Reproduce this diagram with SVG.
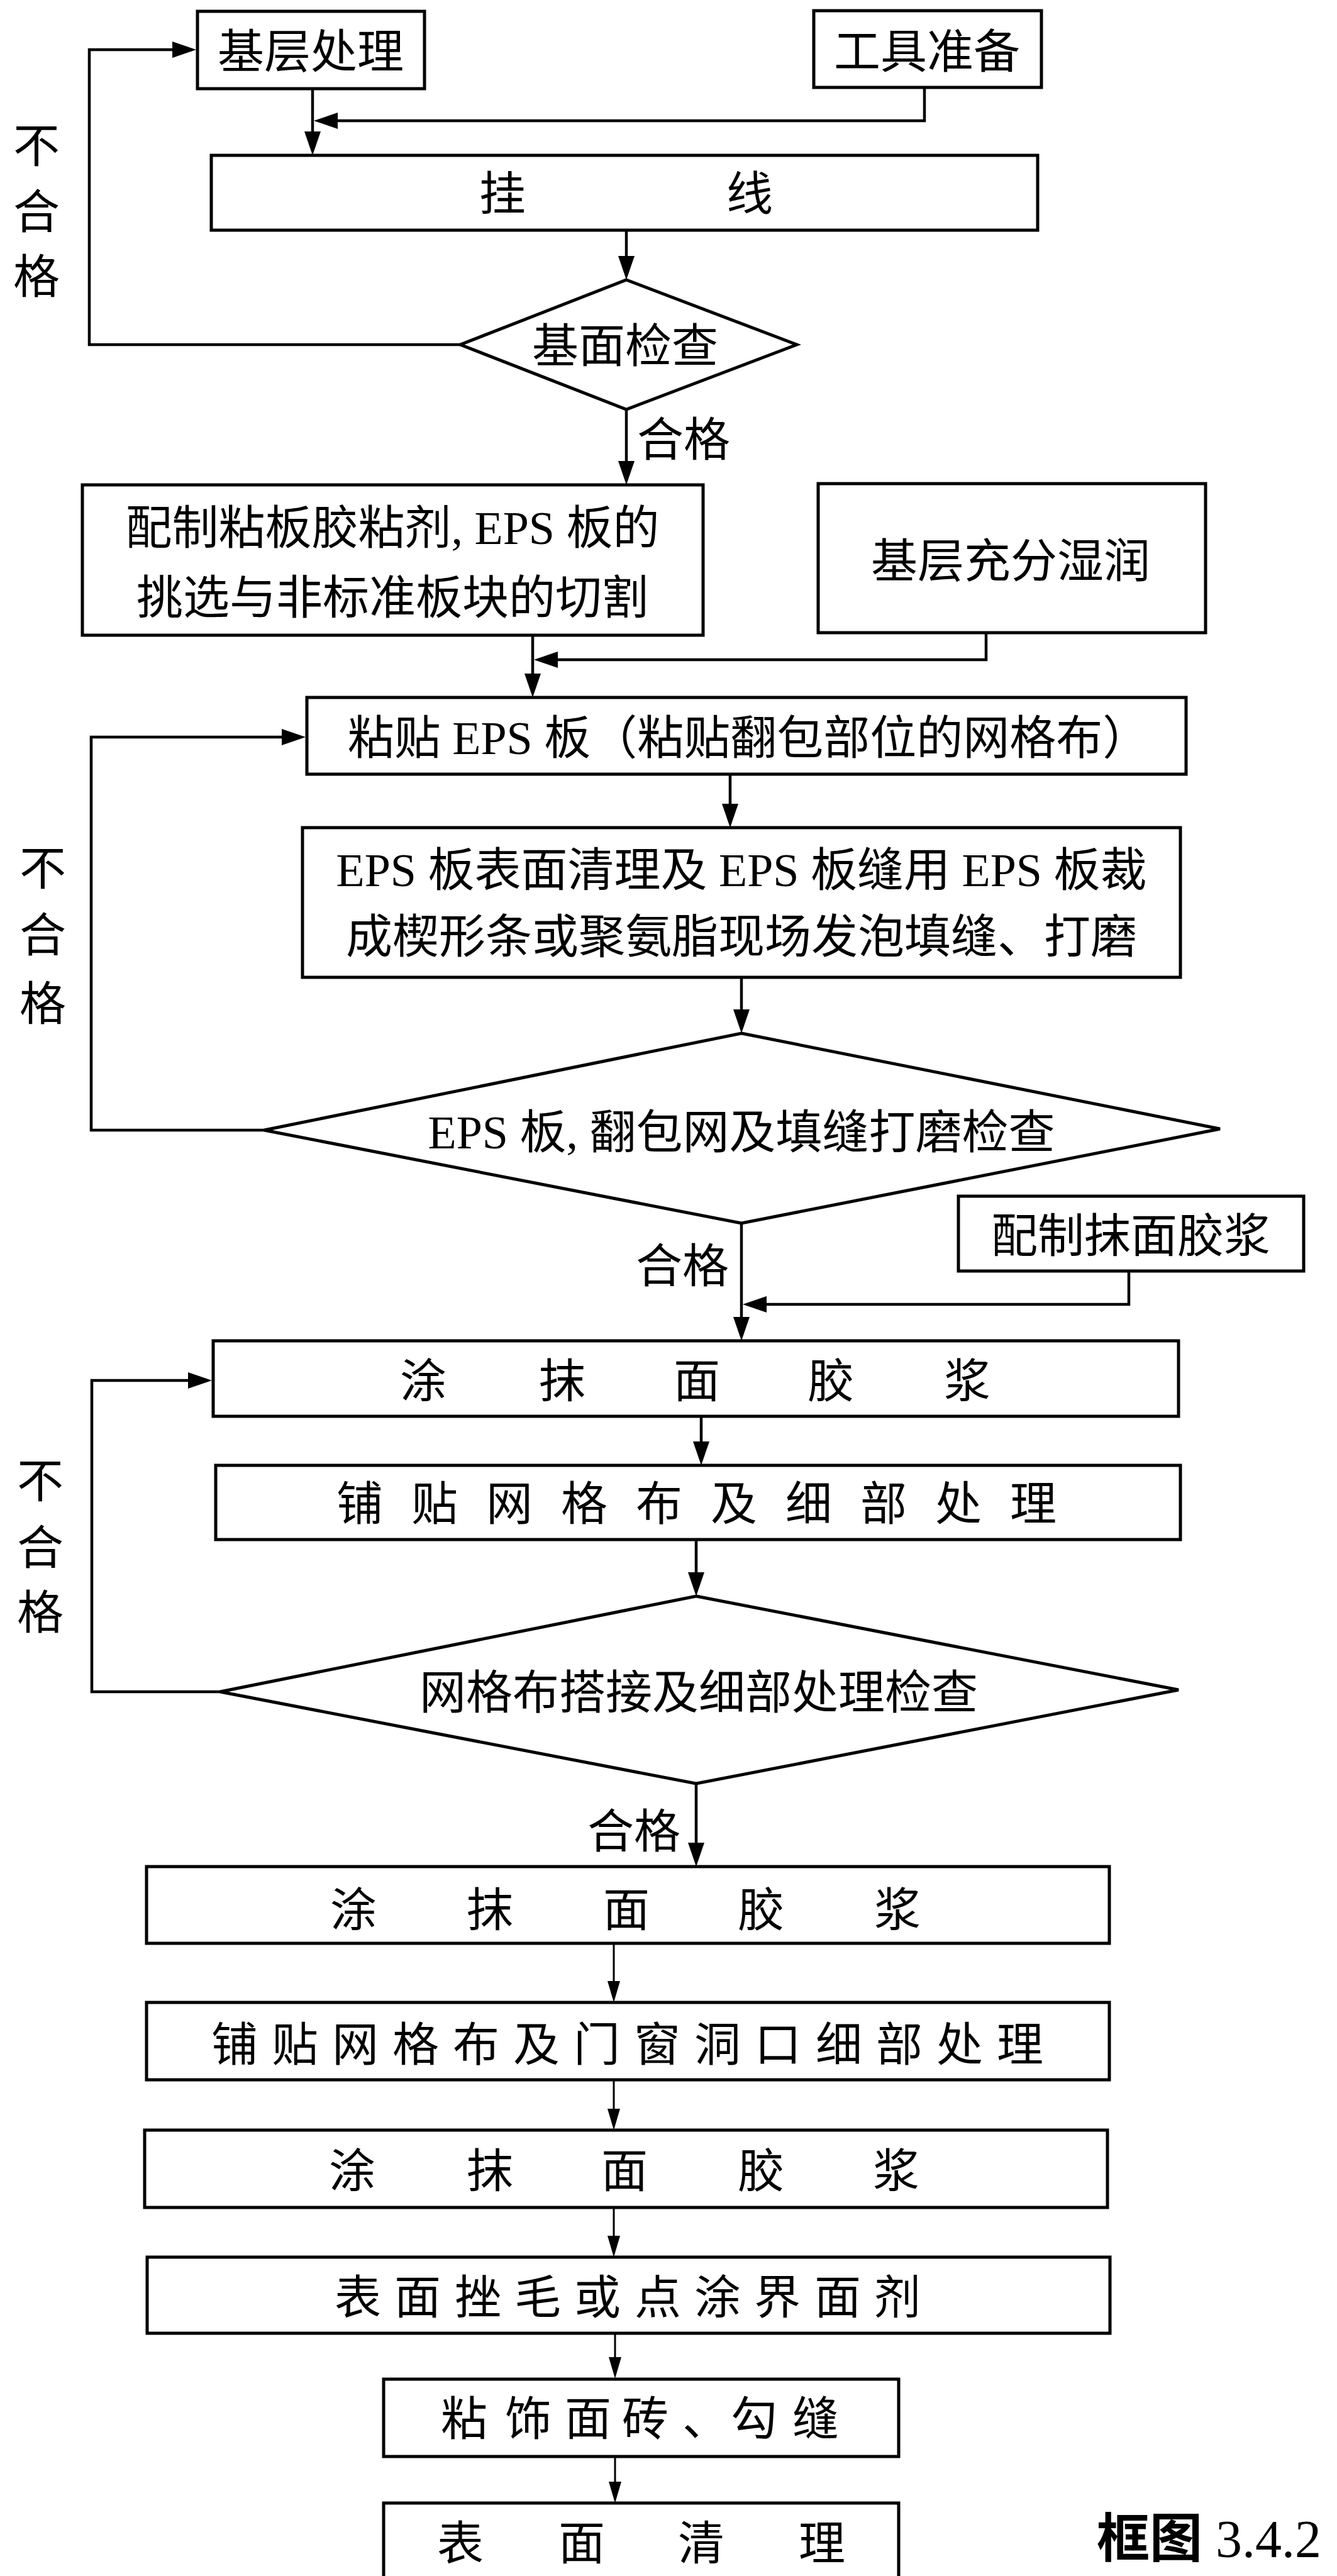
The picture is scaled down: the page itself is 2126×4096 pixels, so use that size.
<svg xmlns="http://www.w3.org/2000/svg" width="2126" height="4096" viewBox="0 0 2126 4096">
<defs>
<style>
.box{fill:#fff;stroke:#000;stroke-width:5}
.dia{fill:#fff;stroke:#000;stroke-width:5;stroke-linejoin:miter}
.t{font-family:"Liberation Serif","Noto Sans CJK SC",serif;font-size:74px;fill:#000;text-anchor:middle}
.c{fill:none;stroke:#000;stroke-width:4.5;marker-end:url(#a)}
.c2{fill:none;stroke:#000;stroke-width:3;marker-end:url(#b)}
</style>
<marker id="a" markerUnits="userSpaceOnUse" viewBox="0 0 38 26" markerWidth="38" markerHeight="26" refX="30" refY="13" orient="auto"><path d="M0,0L38,13L0,26z" fill="#000"/></marker>
<marker id="b" markerUnits="userSpaceOnUse" viewBox="0 0 34 20" markerWidth="34" markerHeight="20" refX="27" refY="10" orient="auto"><path d="M0,0L34,10L0,20z" fill="#000"/></marker>
</defs>
<rect width="2126" height="4096" fill="#fff"/>

<g id="connectors">
<path class="c" d="M497,141V239"/>
<path class="c" d="M1470,139V192H507"/>
<path class="c" d="M996,366V437"/>
<path class="c" d="M732,548H142V79H304"/>
<path class="c" d="M996,651V763"/>
<path class="c" d="M847,1010V1101"/>
<path class="c" d="M1568,1006V1049H857"/>
<path class="c" d="M1161,1231V1308"/>
<path class="c" d="M1179,1554V1635"/>
<path class="c" d="M420,1797H145V1172H478"/>
<path class="c" d="M1179,1945V2124"/>
<path class="c" d="M1795,2021V2074H1189"/>
<path class="c" d="M1115,2252V2322"/>
<path class="c" d="M1107,2448V2530"/>
<path class="c" d="M350,2690H146V2195H329"/>
<path class="c" d="M1107,2836V2960"/>
<path class="c2" d="M976,3090V3177"/>
<path class="c2" d="M976,3307V3380"/>
<path class="c2" d="M976,3510V3582"/>
<path class="c2" d="M978,3710V3775"/>
<path class="c2" d="M978,3906V3973"/>
</g>

<g id="edge-labels">
<text class="t" x="58 58 58" y="258 363 466">不合格</text>
<text class="t" x="68 68 68" y="1407 1513 1622">不合格</text>
<text class="t" x="64 64 64" y="2381 2487 2590">不合格</text>
<text class="t" x="1087" y="725">合格</text>
<text class="t" x="1085" y="2039">合格</text>
<text class="t" x="1008" y="2938">合格</text>
</g>

<g id="n1"><rect class="box" x="314" y="18" width="361" height="123"/><text class="t" x="494" y="108">基层处理</text></g>
<g id="n2"><rect class="box" x="1294" y="17" width="362" height="122"/><text class="t" x="1474" y="108">工具准备</text></g>
<g id="n3"><rect class="box" x="336" y="247" width="1314" height="119"/><text class="t" x="799 1192" y="334">挂线</text></g>
<g id="d1"><polygon class="dia" points="996,445 1267,548 996,651 732,548"/><text class="t" x="994" y="576">基面检查</text></g>
<g id="n4"><rect class="box" x="131" y="771" width="987" height="239"/><text class="t" x="624" y="865">配制粘板胶粘剂, EPS 板的</text><text class="t" x="624" y="976">挑选与非标准板块的切割</text></g>
<g id="n5"><rect class="box" x="1301" y="769" width="616" height="237"/><text class="t" x="1607" y="918">基层充分湿润</text></g>
<g id="n6"><rect class="box" x="488" y="1109" width="1398" height="122"/><text class="t" x="1190" y="1199">粘贴 EPS 板（粘贴翻包部位的网格布）</text></g>
<g id="n7"><rect class="box" x="481" y="1316" width="1396" height="238"/><text class="t" x="1179" y="1409">EPS 板表面清理及 EPS 板缝用 EPS 板裁</text><text class="t" x="1179" y="1515">成楔形条或聚氨脂现场发泡填缝、打磨</text></g>
<g id="d2"><polygon class="dia" points="1179,1643 1940,1795 1179,1945 420,1797"/><text class="t" x="1179" y="1826">EPS 板, 翻包网及填缝打磨检查</text></g>
<g id="n8"><rect class="box" x="1524" y="1902" width="549" height="119"/><text class="t" x="1798" y="1991">配制抹面胶浆</text></g>
<g id="n9"><rect class="box" x="339" y="2132" width="1535" height="120"/><text class="t" x="673 894 1108 1321 1538" y="2222">涂抹面胶浆</text></g>
<g id="n10"><rect class="box" x="343" y="2330" width="1534" height="118"/><text class="t" x="572 691 810 929 1048 1167 1286 1405 1524 1643" y="2417">铺贴网格布及细部处理</text></g>
<g id="d3"><polygon class="dia" points="1107,2538 1874,2687 1107,2836 350,2690"/><text class="t" x="1111" y="2717">网格布搭接及细部处理检查</text></g>
<g id="n11"><rect class="box" x="233" y="2968" width="1531" height="122"/><text class="t" x="562 779 996 1210 1427" y="3063">涂抹面胶浆</text></g>
<g id="n12"><rect class="box" x="233" y="3184" width="1531" height="123"/><text class="t" x="373 469 565 661 757 853 949 1045 1141 1237 1334 1430 1526 1622" y="3277">铺贴网格布及门窗洞口细部处理</text></g>
<g id="n13"><rect class="box" x="230" y="3387" width="1531" height="123"/><text class="t" x="560 779 993 1210 1425" y="3478">涂抹面胶浆</text></g>
<g id="n14"><rect class="box" x="234" y="3589" width="1531" height="121"/><text class="t" x="569 664 760 855 950 1046 1141 1236 1332 1427" y="3679">表面挫毛或点涂界面剂</text></g>
<g id="n15"><rect class="box" x="610" y="3783" width="819" height="123"/><text class="t" x="738 840 935 1026 1122 1199 1297" y="3872">粘饰面砖、勾缝</text></g>
<g id="n16"><path class="box" d="M610,4110V3980H1429V4110"/><text class="t" x="732 925 1115 1307" y="4070">表面清理</text></g>

<g id="caption"><text x="1744" y="4066" style="font-family:'Liberation Serif','Noto Sans CJK SC',serif;font-size:84px;fill:#000"><tspan style="font-weight:bold">框图</tspan> 3.4.2</text></g>
</svg>
